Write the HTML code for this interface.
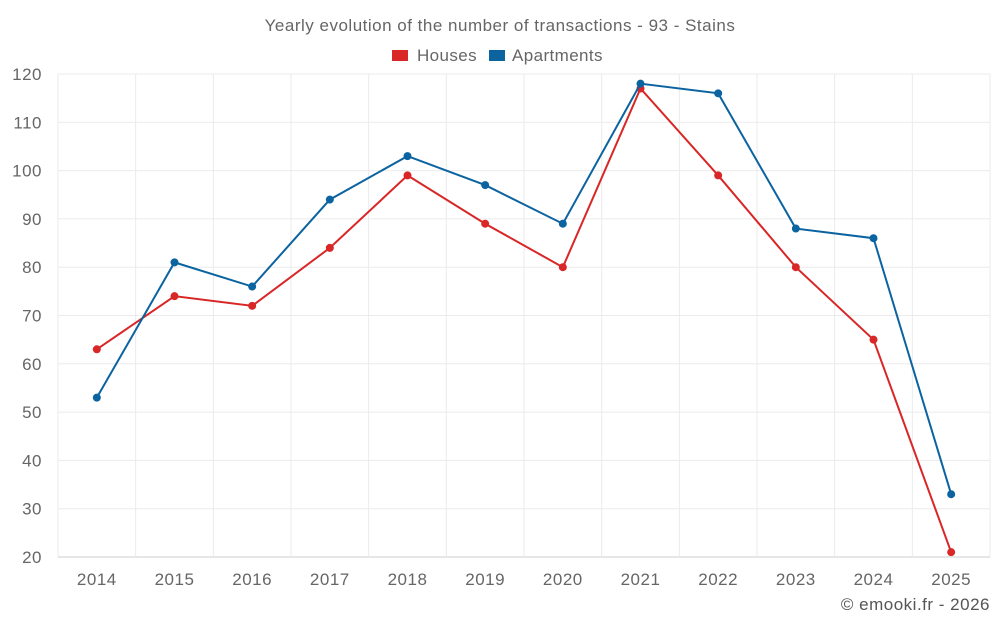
<!DOCTYPE html>
<html><head><meta charset="utf-8"><style>
html,body{margin:0;padding:0;background:#fff;}
svg{display:block;font-family:"Liberation Sans",sans-serif;}
</style></head><body>
<svg id="chart" width="1000" height="625">
<text x="500" y="31" text-anchor="middle" font-size="17" letter-spacing="0.5" fill="#666">Yearly evolution of the number of transactions - 93 - Stains</text>
<g>
<g><rect x="392" y="50" width="16" height="11" fill="#d92626"/><text x="417" y="61" font-size="17" letter-spacing="0.4" fill="#666">Houses</text></g>
<g><rect x="489" y="50" width="16" height="11" fill="#0b63a0"/><text x="512" y="61" font-size="17" letter-spacing="0.4" fill="#666">Apartments</text></g>
</g>
<g id="grid"></g><g id="axes"></g><g id="series"></g>
<text x="990" y="610" text-anchor="end" font-size="17" letter-spacing="0.5" fill="#555">© emooki.fr - 2026</text>
</svg>
<script>
const years=["2014","2015","2016","2017","2018","2019","2020","2021","2022","2023","2024","2025"];
const houses=[63,74,72,84,99,89,80,117,99,80,65,21];
const apartments=[53,81,76,94,103,97,89,118,116,88,86,33];
const yTicks=[20,30,40,50,60,70,80,90,100,110,120];
const L=58,R=990,T=74,B=557,yMin=20,yMax=120;
const bw=(R-L)/years.length;
const xs=i=>L+bw*(i+0.5);
const ys=v=>B-(v-yMin)/(yMax-yMin)*(B-T);
const NS="http://www.w3.org/2000/svg";
function mk(t,a,p){const e=document.createElementNS(NS,t);for(const k in a)e.setAttribute(k,a[k]);p.appendChild(e);return e;}
const grid=document.getElementById('grid'),axes=document.getElementById('axes'),ser=document.getElementById('series');
yTicks.forEach(v=>{
 const l=mk('line',{x1:L,x2:R,y1:ys(v),y2:ys(v),stroke:v===yMin?'#ccc':'#ebebeb'},grid);
 
 
 const t=mk('text',{x:L-16,y:ys(v)+6,'text-anchor':'end','font-size':17,'letter-spacing':0.5,fill:'#666'},axes);
 t.textContent=v;
 
 
});
for(let i=0;i<=years.length;i++){
 const l=mk('line',{x1:L+bw*i,x2:L+bw*i,y1:T,y2:B,stroke:'#ebebeb'},grid);
 
 
}
years.forEach((y,i)=>{
 const t=mk('text',{x:xs(i),y:585,'text-anchor':'middle','font-size':17,'letter-spacing':0.5,fill:'#666'},axes);
 t.textContent=y;
 
 
});
function draw(data,color,name){
 const g=mk('g',{},ser);
 
 
 const p=mk('polyline',{points:data.map((v,i)=>xs(i)+','+ys(v)).join(' '),fill:'none',stroke:color,'stroke-width':2},g);
 
 
 data.forEach((v,i)=>{
  const c=mk('circle',{cx:xs(i),cy:ys(v),r:4,fill:color},g);
  
  
 });
}
draw(houses,'#d92626','houses');
draw(apartments,'#0b63a0','apartments');
</script>
</body></html>
